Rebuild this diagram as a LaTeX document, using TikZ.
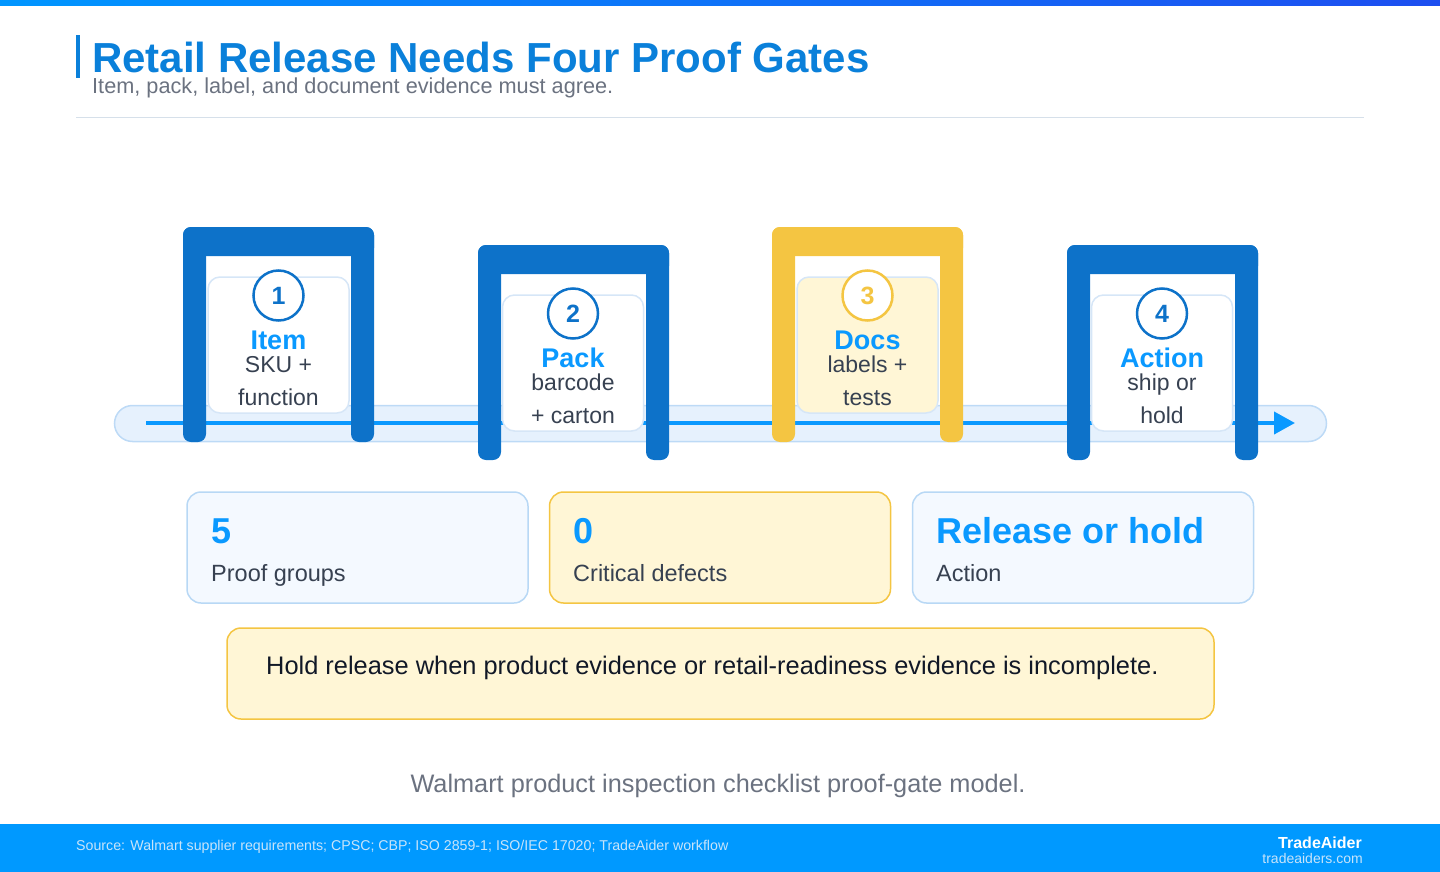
\documentclass[tikz,border=0pt]{standalone}
\usepackage{fontspec}
\setmainfont{Liberation Sans}
\usetikzlibrary{arrows.meta}
\definecolor{gateblue}{RGB}{13,114,201}
\definecolor{gold}{RGB}{244,197,66}
\definecolor{brightblue}{RGB}{10,153,255}
\definecolor{titleblue}{RGB}{10,128,218}
\definecolor{txt}{RGB}{55,65,81}
\definecolor{graytxt}{RGB}{107,114,128}
\definecolor{trackfill}{RGB}{230,241,253}
\definecolor{trackline}{RGB}{189,218,246}
\definecolor{cardline}{RGB}{214,230,247}
\definecolor{statfill}{RGB}{244,249,255}
\definecolor{statline}{RGB}{184,216,245}
\definecolor{yellowfill}{RGB}{255,246,214}
\definecolor{footerblue}{RGB}{0,153,255}
\definecolor{footertxt}{RGB}{200,228,250}
\definecolor{sepline}{RGB}{214,224,234}
\definecolor{darktxt}{RGB}{17,24,39}
\tikzset{
  fs/.style={font=\fontsize{#1}{#1}\selectfont},
  fsb/.style={font=\fontsize{#1}{#1}\selectfont\bfseries},
  card/.style={draw=cardline, line width=1.5pt, rounded corners=12pt, minimum width=141pt, minimum height=136pt, inner sep=0pt},
  numcirc/.style={circle, line width=2.5pt, fill=white, minimum size=50pt, inner sep=0pt, fsb=25},
  gatetitle/.style={anchor=base, inner sep=0pt, text=brightblue, fsb=27},
  gatesub/.style={anchor=base, inner sep=0pt, text=txt, fs=23},
  statbox/.style={rounded corners=14pt, line width=1.5pt, minimum width=341pt, minimum height=111pt, inner sep=0pt},
  statnum/.style={anchor=base west, inner sep=0pt, text=brightblue, fsb=36},
  statlbl/.style={anchor=base west, inner sep=0pt, text=txt, fs=23.5},
}
\newcommand\drawgate[3]{%
  \fill[#3, rounded corners=8pt] (#1,#2) rectangle ({#1+23},{#2+215});
  \fill[#3, rounded corners=8pt] ({#1+168},#2) rectangle ({#1+191},{#2+215});
  \fill[#3, rounded corners=8pt] (#1,#2) rectangle ({#1+191},{#2+29});
}
\begin{document}
\begin{tikzpicture}[x=1pt,y=-1pt]
\useasboundingbox (0,0) rectangle (1440,872);
% header bar
\shade[left color={rgb,255:red,0;green,150;blue,255}, right color={rgb,255:red,29;green,78;blue,240}] (0,0) rectangle (1440,6);
% title
\fill[titleblue] (76,35) rectangle (80,78);
\node[anchor=base west, inner sep=0pt, text=titleblue, fsb=42] (title) at (92,73) {Retail Release Needs Four Proof Gates};
\node[anchor=base west, inner sep=0pt, text=graytxt, fs=21.7] (subtitle) at (92,94) {Item, pack, label, and document evidence must agree.};
\draw[sepline, line width=1pt] (76,117.5) -- (1364,117.5);
% track
\draw[fill=trackfill, draw=trackline, line width=1.5pt, rounded corners=18pt] (114.5,405.5) rectangle (1326.5,441.5);
\coordinate (ls) at (146,423);
\coordinate (le) at (1295,423);
\draw[brightblue, line width=4pt, -{Triangle[length=21pt,width=22pt]}] (ls) -- (le);
% gates
\drawgate{183}{227}{gateblue}
\drawgate{478}{245}{gateblue}
\drawgate{772}{227}{gold}
\drawgate{1067}{245}{gateblue}
% cards
\node[card, fill=white] (c1) at (278.5,345) {};
\node[card, fill=white] (c2) at (573,363) {};
\node[card, fill=yellowfill] (c3) at (867.5,345) {};
\node[card, fill=white] (c4) at (1162,363) {};
% circles
\node[numcirc, draw=gateblue, text=gateblue] (n1) at (278.5,295.5) {1};
\node[numcirc, draw=gateblue, text=gateblue] (n2) at (573,313.5) {2};
\node[numcirc, draw=gold, text=gold] (n3) at (867.5,295.5) {3};
\node[numcirc, draw=gateblue, text=gateblue] (n4) at (1162,313.5) {4};
% gate texts
\node[gatetitle] (t1) at (278.5,349) {Item};
\node[gatesub] (a1) at (278.5,372) {SKU +};
\node[gatesub] (b1) at (278.5,405) {function};
\node[gatetitle] (t2) at (573,367) {Pack};
\node[gatesub] (a2) at (573,390) {barcode};
\node[gatesub] (b2) at (573,423) {+ carton};
\node[gatetitle] (t3) at (867.5,349) {Docs};
\node[gatesub] (a3) at (867.5,372) {labels +};
\node[gatesub] (b3) at (867.5,405) {tests};
\node[gatetitle] (t4) at (1162,367) {Action};
\node[gatesub] (a4) at (1162,390) {ship or};
\node[gatesub] (b4) at (1162,423) {hold};
% stat boxes
\node[statbox, fill=statfill, draw=statline] (s1) at (357.5,547.5) {};
\node[statbox, fill=yellowfill, draw=gold] (s2) at (720,547.5) {};
\node[statbox, fill=statfill, draw=statline] (s3) at (1083,547.5) {};
\node[statnum] (v1) at (211,543) {5};
\node[statlbl] (l1) at (211,581) {Proof groups};
\node[statnum] (v2) at (573,543) {0};
\node[statlbl] (l2) at (573,581) {Critical defects};
\node[statnum] (v3) at (936,543) {Release or hold};
\node[statlbl] (l3) at (936,581) {Action};
% callout
\node[rounded corners=14pt, line width=1.5pt, fill=yellowfill, draw=gold, minimum width=987pt, minimum height=91pt, inner sep=0pt] (callout) at (720.5,673.5) {};
\node[anchor=base west, inner sep=0pt, text=darktxt, fs=25.4] (callouttxt) at (266,674) {Hold release when product evidence or retail-readiness evidence is incomplete.};
% caption
\node[anchor=base, inner sep=0pt, text=graytxt, fs=25.3] (caption) at (718,792) {Walmart product inspection checklist proof-gate model.};
% footer
\fill[footerblue] (0,824) rectangle (1440,872);
\node[anchor=base west, inner sep=0pt, text=footertxt, fs=14.2] (source) at (76,850) {Source: Walmart supplier requirements; CPSC; CBP; ISO 2859-1; ISO/IEC 17020; TradeAider workflow};
\node[anchor=base east, inner sep=0pt, text=white, fsb=16] (brand) at (1362,848) {TradeAider};
\node[anchor=base east, inner sep=0pt, text=footertxt, fs=14] (url) at (1363,863) {tradeaiders.com};
\end{tikzpicture}
\end{document}
